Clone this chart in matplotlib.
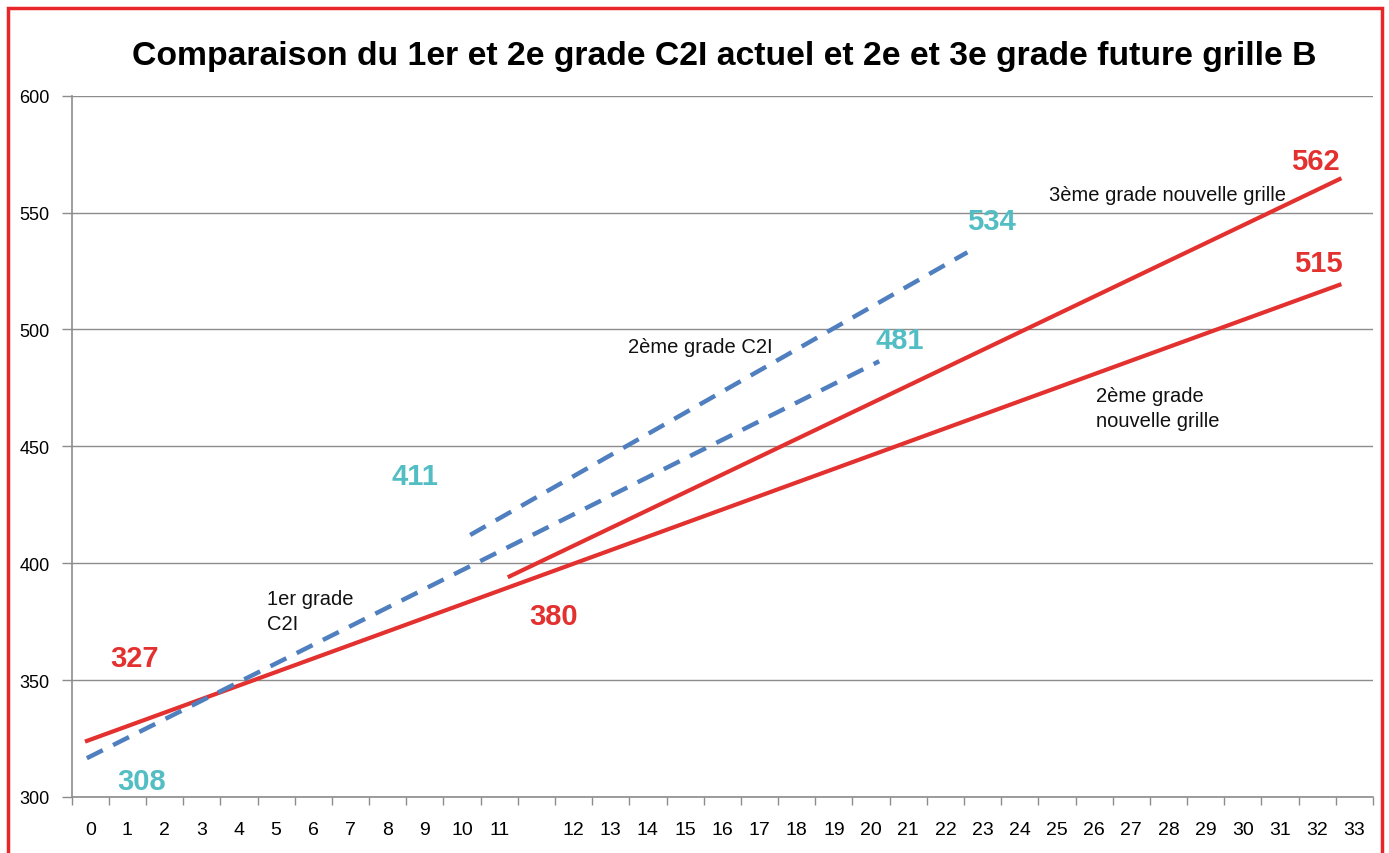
import matplotlib
matplotlib.use("Agg")
import matplotlib.pyplot as plt
from matplotlib.patches import Rectangle
from matplotlib import font_manager

# ---------------- data ----------------
categories = [str(i) for i in range(0, 12)] + [""] + [str(i) for i in range(12, 34)]
y_ticks = [300, 350, 400, 450, 500, 550, 600]

# series (position on the category axis, value)
grille_2e_x = [-0.14, 33.65]
grille_2e_y = [323.7, 519.4]
grille_3e_x = [11.23, 33.65]
grille_3e_y = [394.0, 564.7]
c2i_1er_x = [-0.09, 21.22]
c2i_1er_y = [316.6, 486.4]
c2i_2e_x = [10.22, 23.59]
c2i_2e_y = [412.1, 533.0]

# value annotations
red_labels = ["327", "380", "562", "515"]
red_label_x = [1.18, 12.45, 32.94, 33.03]
red_label_y = [359.5, 377.4, 572.1, 528.4]
cyan_labels = ["308", "411", "481", "534"]
cyan_label_x = [1.39, 8.73, 21.76, 24.23]
cyan_label_y = [306.8, 437.3, 495.5, 546.4]

series_names = ["1er grade\nC2I", "2ème grade C2I", "3ème grade nouvelle grille", "2ème grade\nnouvelle grille"]
series_name_x = [4.76, 14.47, 25.79, 27.06]
series_name_y = [379.6, 492.9, 557.9, 466.4]

title = "Comparaison du 1er et 2e grade C2I actuel et 2e et 3e grade future grille B"

# ---------------- style ----------------
RED = "#E2312F"
BLUE = "#4F7FBF"
CYAN = "#52BEC4"
GRID = "#8C8C8C"

names = {f.name for f in font_manager.fontManager.ttflist}
base = "Liberation Sans" if "Liberation Sans" in names else "DejaVu Sans"
narrow = "Liberation Sans Narrow" if "Liberation Sans Narrow" in names else base
plt.rcParams["font.family"] = [base, "DejaVu Sans"]

fig = plt.figure(figsize=(13.89, 8.54), dpi=100)
ax = fig.add_axes([71.6 / 1389, (854 - 798) / 854, (1373 - 71.6) / 1389, (798 - 96.7) / 854])

ax.plot(grille_2e_x, grille_2e_y, color=RED, lw=3.0, solid_capstyle="butt", zorder=3)
ax.plot(grille_3e_x, grille_3e_y, color=RED, lw=3.0, solid_capstyle="butt", zorder=3)
ax.plot(c2i_1er_x, c2i_1er_y, color=BLUE, lw=3.2, ls=(0, (4, 2.6)), dash_capstyle="butt", zorder=3)
ax.plot(c2i_2e_x, c2i_2e_y, color=BLUE, lw=3.2, ls=(0, (4, 2.6)), dash_capstyle="butt", zorder=3)

for t, x, y in zip(red_labels, red_label_x, red_label_y):
    ax.text(x, y, t, color=RED, fontsize=21, fontweight="bold", ha="center", va="center", zorder=4)
for t, x, y in zip(cyan_labels, cyan_label_x, cyan_label_y):
    ax.text(x, y, t, color=CYAN, fontsize=21, fontweight="bold", ha="center", va="center", zorder=4)
for t, x, y in zip(series_names, series_name_x, series_name_y):
    ax.text(x, y, t, color="#111111", fontsize=14.5, ha="left", va="center", linespacing=1.45, zorder=4)

ax.set_xlim(-0.5, len(categories) - 0.5)
ax.set_ylim(300, 600)
ax.set_yticks(y_ticks)
ax.set_yticklabels([str(v) for v in y_ticks], fontsize=13)
ax.set_xticks(range(len(categories)))
ax.set_xticklabels(categories, fontsize=14, family=[narrow, "DejaVu Sans"])
ax.set_xticks([i - 0.5 for i in range(len(categories) + 1)], minor=True)
ax.tick_params(axis="x", which="major", length=0, pad=17)
ax.tick_params(axis="x", which="minor", length=6, color=GRID, width=1)
ax.tick_params(axis="y", length=7, color=GRID, width=1, pad=9)

ax.yaxis.grid(True, color=GRID, lw=1)
ax.set_axisbelow(True)
for s in ["top", "right"]:
    ax.spines[s].set_visible(False)
for s in ["left", "bottom"]:
    ax.spines[s].set_color(GRID)
    ax.spines[s].set_linewidth(1.2)

fig.text(724 / 1389, 1 - 57 / 854, title, ha="center", va="center", fontsize=24.3, fontweight="bold")

fig.patches.append(Rectangle((8 / 1389, -0.05), (1382 - 8) / 1389, 1.05 - 9 / 854,
                             transform=fig.transFigure, fill=False, edgecolor="#E8262A", lw=2.5))

fig.savefig("out.png", dpi=100)
